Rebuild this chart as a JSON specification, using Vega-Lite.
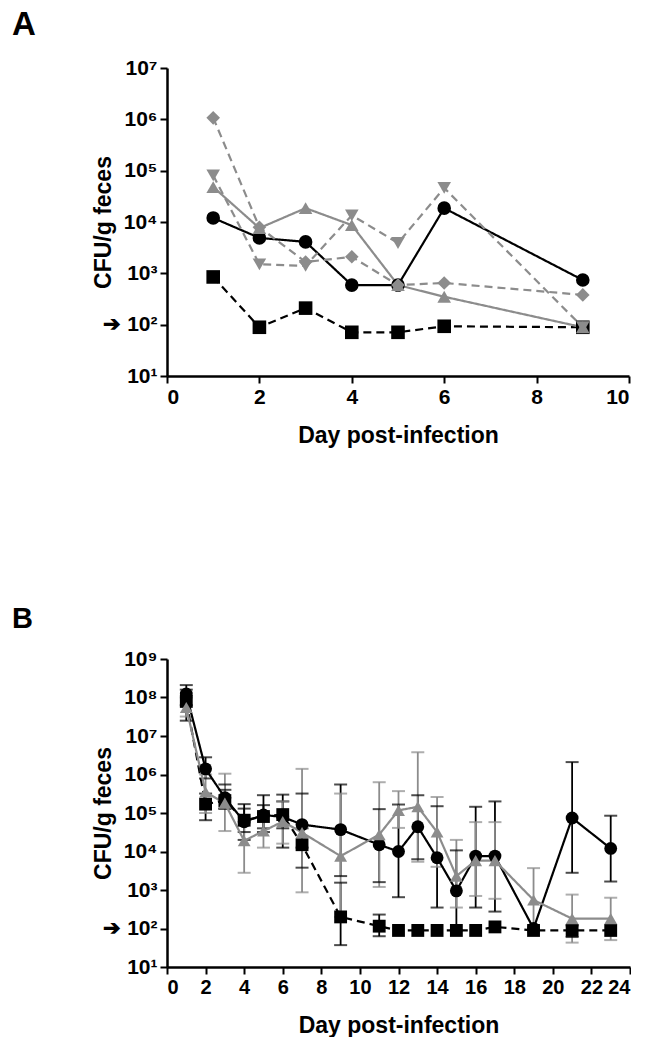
{
  "$schema": "https://vega.github.io/schema/vega-lite/v6.json",
  "autosize": {"type": "pad"},
  "padding": {"left": 12, "top": 9, "right": 0, "bottom": 0},
  "background": "white",
  "bounds": "flush",
  "spacing": 283,
  "config": {
    "font": "Liberation Sans",
    "view": {"stroke": null},
    "axis": {
      "domainColor": "black", "domainWidth": 2.5, "tickColor": "black", "tickWidth": 2, "tickSize": 7,
      "labelFont": "Liberation Sans", "labelFontWeight": "bold", "labelFontSize": 21, "labelColor": "black",
      "titleFont": "Liberation Sans", "titleFontWeight": "bold", "titleFontSize": 23, "titleColor": "black",
      "grid": false, "labelPadding": 3
    }
  },
  "vconcat": [
    {
      "width": 462, "height": 308,
      "title": {"text": "A", "anchor": "start", "frame": "group", "fontSize": 33, "fontWeight": "bold", "font": "Liberation Sans", "dx": -155, "offset": -11, "baseline": "alphabetic", "color": "black"},
      "data": {"values": [
        {"day": 1, "cfu": 12000, "series": "circle"}, {"day": 2, "cfu": 4900, "series": "circle"}, {"day": 3, "cfu": 4100, "series": "circle"}, {"day": 4, "cfu": 590, "series": "circle"}, {"day": 5, "cfu": 590, "series": "circle"}, {"day": 6, "cfu": 18600, "series": "circle"}, {"day": 9, "cfu": 740, "series": "circle"},
        {"day": 1, "cfu": 850, "series": "square"}, {"day": 2, "cfu": 89, "series": "square"}, {"day": 3, "cfu": 210, "series": "square"}, {"day": 4, "cfu": 71, "series": "square"}, {"day": 5, "cfu": 71, "series": "square"}, {"day": 6, "cfu": 93, "series": "square"}, {"day": 9, "cfu": 89, "series": "square"},
        {"day": 1, "cfu": 1070000, "series": "diamond"}, {"day": 2, "cfu": 7900, "series": "diamond"}, {"day": 3, "cfu": 1660, "series": "diamond"}, {"day": 4, "cfu": 2100, "series": "diamond"}, {"day": 5, "cfu": 590, "series": "diamond"}, {"day": 6, "cfu": 650, "series": "diamond"}, {"day": 9, "cfu": 380, "series": "diamond"},
        {"day": 1, "cfu": 81000, "series": "down"}, {"day": 2, "cfu": 1500, "series": "down"}, {"day": 3, "cfu": 1400, "series": "down"}, {"day": 4, "cfu": 13500, "series": "down"}, {"day": 5, "cfu": 3900, "series": "down"}, {"day": 6, "cfu": 46000, "series": "down"}, {"day": 9, "cfu": 89, "series": "down"},
        {"day": 1, "cfu": 48000, "series": "up"}, {"day": 2, "cfu": 7600, "series": "up"}, {"day": 3, "cfu": 18600, "series": "up"}, {"day": 4, "cfu": 8700, "series": "up"}, {"day": 5, "cfu": 590, "series": "up"}, {"day": 6, "cfu": 350, "series": "up"}, {"day": 9, "cfu": 89, "series": "up"}
      ]},
      "encoding": {
        "x": {"field": "day", "type": "quantitative", "scale": {"domain": [0, 10], "nice": false, "zero": false},
              "axis": {"values": [0, 2, 4, 6, 8, 10], "title": "Day post-infection", "titlePadding": 17}},
        "y": {"field": "cfu", "type": "quantitative", "scale": {"type": "log", "domain": [10, 10000000], "nice": false},
              "axis": {"values": [10, 100, 1000, 10000, 100000, 1000000, 10000000], "title": "CFU/g feces", "titlePadding": -13,
                       "labelExpr": "(datum.value == 100 ? '➔ ' : '') + '10' + ['⁰','¹','²','³','⁴','⁵','⁶','⁷','⁸','⁹'][round(log(datum.value)/LN10)]"}},
        "color": {"field": "series", "type": "nominal", "legend": null,
                  "scale": {"domain": ["circle", "square", "diamond", "down", "up"], "range": ["#000000", "#000000", "#8c8c8c", "#8c8c8c", "#8c8c8c"]}}
      },
      "layer": [
        {"mark": {"type": "line", "strokeWidth": 2.2},
         "encoding": {"strokeDash": {"field": "series", "type": "nominal", "legend": null,
                      "scale": {"domain": ["circle", "square", "diamond", "down", "up"], "range": [[1, 0], [8, 5], [8, 5], [8, 5], [1, 0]]}}}},
        {"mark": {"type": "point", "filled": true, "opacity": 1, "size": 185},
         "encoding": {"shape": {"field": "series", "type": "nominal", "legend": null,
                      "scale": {"domain": ["circle", "square", "diamond", "down", "up"], "range": ["circle", "square", "diamond", "triangle-down", "triangle-up"]}}}}
      ]
    },
    {
      "width": 463, "height": 308,
      "title": {"text": "B", "anchor": "start", "frame": "group", "fontSize": 29, "fontWeight": "bold", "font": "Liberation Sans", "dx": -155, "offset": -9, "baseline": "alphabetic", "color": "black"},
      "data": {"values": [
        {"day": 1, "cfu": 123000000, "lo": 63000000, "hi": 210000000, "series": "circle"},
        {"day": 2, "cfu": 1400000, "lo": 790000, "hi": 2800000, "series": "circle"},
        {"day": 3, "cfu": 250000, "lo": 130000, "hi": 550000, "series": "circle"},
        {"day": 4, "cfu": 59000, "lo": 20000, "hi": 170000, "series": "circle"},
        {"day": 5, "cfu": 89000, "lo": 32000, "hi": 290000, "series": "circle"},
        {"day": 6, "cfu": 79000, "lo": 12600, "hi": 300000, "series": "circle"},
        {"day": 7, "cfu": 50000, "lo": 12600, "hi": 320000, "series": "circle"},
        {"day": 9, "cfu": 37000, "lo": 2300, "hi": 550000, "series": "circle"},
        {"day": 11, "cfu": 15000, "lo": 1600, "hi": 126000, "series": "circle"},
        {"day": 12, "cfu": 10000, "lo": 650, "hi": 166000, "series": "circle"},
        {"day": 13, "cfu": 44000, "lo": 6300, "hi": 290000, "series": "circle"},
        {"day": 14, "cfu": 6900, "lo": 350, "hi": 150000, "series": "circle"},
        {"day": 15, "cfu": 950, "lo": 89, "hi": 10700, "series": "circle"},
        {"day": 16, "cfu": 7600, "lo": 350, "hi": 145000, "series": "circle"},
        {"day": 17, "cfu": 7600, "lo": 275, "hi": 200000, "series": "circle"},
        {"day": 19, "cfu": 100, "series": "circle"},
        {"day": 21, "cfu": 74000, "lo": 2800, "hi": 2100000, "series": "circle"},
        {"day": 23, "cfu": 12000, "lo": 1660, "hi": 85000, "series": "circle"},
        {"day": 1, "cfu": 79000000, "lo": 25000000, "hi": 160000000, "series": "square"},
        {"day": 2, "cfu": 170000, "lo": 65000, "hi": 320000, "series": "square"},
        {"day": 3, "cfu": 210000, "lo": 130000, "hi": 400000, "series": "square"},
        {"day": 4, "cfu": 65000, "lo": 32000, "hi": 130000, "series": "square"},
        {"day": 5, "cfu": 81000, "lo": 40000, "hi": 160000, "series": "square"},
        {"day": 6, "cfu": 91000, "lo": 40000, "hi": 200000, "series": "square"},
        {"day": 7, "cfu": 15000, "lo": 3800, "hi": 40000, "series": "square"},
        {"day": 9, "cfu": 200, "lo": 37, "hi": 1550, "series": "square"},
        {"day": 11, "cfu": 115, "lo": 63, "hi": 230, "series": "square"},
        {"day": 12, "cfu": 89, "series": "square"},
        {"day": 13, "cfu": 89, "series": "square"},
        {"day": 14, "cfu": 89, "series": "square"},
        {"day": 15, "cfu": 89, "series": "square"},
        {"day": 16, "cfu": 89, "series": "square"},
        {"day": 17, "cfu": 110, "series": "square"},
        {"day": 19, "cfu": 89, "series": "square"},
        {"day": 21, "cfu": 89, "lo": 60, "hi": 120, "series": "square"},
        {"day": 23, "cfu": 89, "series": "square"},
        {"day": 1, "cfu": 55000000, "lo": 32000000, "hi": 100000000, "series": "up"},
        {"day": 2, "cfu": 350000, "lo": 100000, "hi": 1000000, "series": "up"},
        {"day": 3, "cfu": 180000, "lo": 34000, "hi": 1050000, "series": "up"},
        {"day": 4, "cfu": 19000, "lo": 2800, "hi": 80000, "series": "up"},
        {"day": 5, "cfu": 34000, "lo": 12600, "hi": 100000, "series": "up"},
        {"day": 6, "cfu": 60000, "lo": 16000, "hi": 200000, "series": "up"},
        {"day": 7, "cfu": 31000, "lo": 870, "hi": 1400000, "series": "up"},
        {"day": 9, "cfu": 7600, "lo": 200, "hi": 320000, "series": "up"},
        {"day": 11, "cfu": 27500, "lo": 1200, "hi": 630000, "series": "up"},
        {"day": 12, "cfu": 117000, "lo": 41000, "hi": 370000, "series": "up"},
        {"day": 13, "cfu": 145000, "lo": 5400, "hi": 3800000, "series": "up"},
        {"day": 14, "cfu": 32000, "lo": 4000, "hi": 260000, "series": "up"},
        {"day": 15, "cfu": 2300, "lo": 350, "hi": 20000, "series": "up"},
        {"day": 16, "cfu": 5800, "lo": 700, "hi": 58000, "series": "up"},
        {"day": 17, "cfu": 5800, "lo": 590, "hi": 58000, "series": "up"},
        {"day": 19, "cfu": 550, "lo": 80, "hi": 3700, "series": "up"},
        {"day": 21, "cfu": 180, "lo": 43, "hi": 760, "series": "up"},
        {"day": 23, "cfu": 180, "lo": 50, "hi": 630, "series": "up"}
      ]},
      "encoding": {
        "x": {"field": "day", "type": "quantitative", "scale": {"domain": [0, 24], "nice": false, "zero": false},
              "axis": {"values": [0, 2, 4, 6, 8, 10, 12, 14, 16, 18, 20, 22, 24], "title": "Day post-infection", "titlePadding": 17, "labelFontSize": 20}},
        "color": {"field": "series", "type": "nominal", "legend": null,
                  "scale": {"domain": ["circle", "square", "up"], "range": ["#000000", "#000000", "#727272"]}}
      },
      "layer": [
        {"mark": {"type": "rule", "strokeWidth": 1.8},
         "encoding": {"y": {"field": "lo", "type": "quantitative", "scale": {"type": "log", "domain": [10, 1000000000], "nice": false}},
                      "y2": {"field": "hi"},
                      "color": {"field": "series", "type": "nominal", "legend": null, "scale": {"domain": ["circle", "square", "up"], "range": ["#000000", "#000000", "#8c8c8c"]}}}},
        {"mark": {"type": "tick", "orient": "horizontal", "size": 13, "thickness": 2},
         "encoding": {"y": {"field": "lo", "type": "quantitative"},
                      "color": {"field": "series", "type": "nominal", "legend": null, "scale": {"domain": ["circle", "square", "up"], "range": ["#000000", "#000000", "#8c8c8c"]}}}},
        {"mark": {"type": "tick", "orient": "horizontal", "size": 13, "thickness": 2},
         "encoding": {"y": {"field": "hi", "type": "quantitative"},
                      "color": {"field": "series", "type": "nominal", "legend": null, "scale": {"domain": ["circle", "square", "up"], "range": ["#000000", "#000000", "#8c8c8c"]}}}},
        {"mark": {"type": "line"},
         "encoding": {"y": {"field": "cfu", "type": "quantitative",
                            "axis": {"values": [10, 100, 1000, 10000, 100000, 1000000, 10000000, 100000000, 1000000000], "title": "CFU/g feces", "titlePadding": -13,
                                     "labelExpr": "(datum.value == 100 ? '➔ ' : '') + '10' + ['⁰','¹','²','³','⁴','⁵','⁶','⁷','⁸','⁹'][round(log(datum.value)/LN10)]"}},
                      "strokeWidth": {"field": "series", "type": "nominal", "legend": null, "scale": {"domain": ["circle", "square", "up"], "range": [2.2, 2.2, 2.8]}},
                      "strokeDash": {"field": "series", "type": "nominal", "legend": null,
                                     "scale": {"domain": ["circle", "square", "up"], "range": [[1, 0], [8, 5], [1, 0]]}}}},
        {"mark": {"type": "point", "filled": true, "opacity": 1, "size": 165},
         "encoding": {"y": {"field": "cfu", "type": "quantitative"},
                      "shape": {"field": "series", "type": "nominal", "legend": null,
                                "scale": {"domain": ["circle", "square", "up"], "range": ["circle", "square", "triangle-up"]}}}}
      ],
      "resolve": {"axis": {"y": "shared"}}
    }
  ]
}
